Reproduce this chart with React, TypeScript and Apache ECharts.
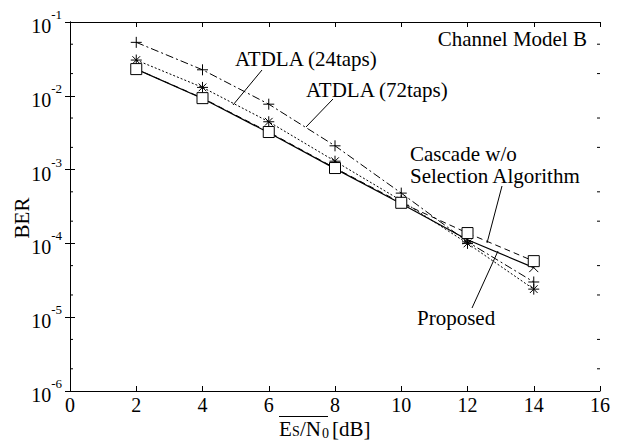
import React, { useEffect, useRef } from "react";
import * as echarts from "echarts";

const snrDb = [2, 4, 6, 8, 10, 12, 14];
const berAtdla72 = [5.3e-2, 2.25e-2, 7.7e-3, 2.1e-3, 4.8e-4, 1.05e-4, 3.0e-5];
const berAtdla24 = [3.05e-2, 1.3e-2, 4.45e-3, 1.3e-3, 3.8e-4, 1.0e-4, 2.4e-5];
const berCascade = [2.3e-2, 9.3e-3, 3.23e-3, 1.05e-3, 3.55e-4, 1.38e-4, 5.75e-5];
const berProposed = [2.3e-2, 9.2e-3, 3.15e-3, 1.03e-3, 3.45e-4, 1.12e-4, 4.7e-5];

const xTicks = [0, 2, 4, 6, 8, 10, 12, 14, 16];
const yTickExponents = [-6, -5, -4, -3, -2, -1];
const minorTickValues = [
  2e-6, 5e-6, 2e-5, 5e-5, 2e-4, 5e-4, 2e-3, 5e-3, 2e-2, 5e-2,
];

const FONT = "Liberation Serif";

const SYM_PLUS = "path://M5,0L5,10M0,5L10,5";
const SYM_STAR =
  "path://M5,0L5,10M0,5L10,5M1.5,1.5L8.5,8.5M8.5,1.5L1.5,8.5";
const SYM_X = "path://M0,0L10,10M10,0L0,10";

function pairs(vals: number[]) {
  return snrDb.map((x, i) => [x, vals[i]]);
}

function txt(text: string, x: number, y: number, size: number, align = "left", extra: any = {}) {
  return {
    type: "text",
    x,
    y,
    silent: true,
    z: 100,
    ...extra,
    style: {
      text,
      fontFamily: FONT,
      fontSize: size,
      fill: "#000",
      align,
      verticalAlign: "middle",
      textAlign: align,
      textVerticalAlign: "middle",
    },
  };
}

function seg(x1: number, y1: number, x2: number, y2: number) {
  return {
    type: "line",
    silent: true,
    z: 100,
    shape: { x1, y1, x2, y2 },
    style: { stroke: "#000", lineWidth: 1 },
  };
}

export default function App() {
  const ref = useRef<HTMLDivElement>(null);

  useEffect(() => {
    if (!ref.current) return;
    const chart = echarts.init(ref.current, undefined, { renderer: "svg" });

    const yLabelFmt = (v: number) => {
      const e = Math.round(Math.log10(v));
      const exp = yTickExponents.find((t) => t === e);
      return exp === undefined ? "" : `{b|10}{s|${exp}}`;
    };

    const axisCommon = {
      axisLine: { show: true, lineStyle: { color: "#000", width: 1 } },
      splitLine: { show: false },
      axisTick: { show: true, inside: true, length: 5, lineStyle: { color: "#000", width: 1 } },
    };

    const option: any = {
      animation: false,
      backgroundColor: "#fff",
      textStyle: { fontFamily: FONT },
      grid: { left: 70, right: 32, top: 22, bottom: 53, containLabel: false },
      xAxis: [
        {
          type: "value",
          min: xTicks[0],
          max: xTicks[xTicks.length - 1],
          interval: 2,
          ...axisCommon,
          axisLabel: {
            margin: 4,
            color: "#000",
            fontFamily: FONT,
            fontSize: 20,
            formatter: (v: number) => (xTicks.includes(v) ? String(v) : ""),
          },
        },
        {
          type: "value",
          position: "top",
          min: xTicks[0],
          max: xTicks[xTicks.length - 1],
          interval: 2,
          ...axisCommon,
          axisLabel: { show: false },
        },
      ],
      yAxis: [
        {
          type: "log",
          logBase: 10,
          min: 1e-6,
          max: 1e-1,
          ...axisCommon,
          axisLabel: {
            margin: 8,
            color: "#000",
            formatter: yLabelFmt,
            rich: {
              b: {
                fontFamily: FONT,
                fontSize: 20,
                color: "#000",
                lineHeight: 28,
                verticalAlign: "bottom",
              },
              s: {
                fontFamily: FONT,
                fontSize: 13,
                color: "#000",
                lineHeight: 28,
                verticalAlign: "top",
              },
            },
          },
        },
        {
          type: "log",
          logBase: 10,
          min: 1e-6,
          max: 1e-1,
          position: "right",
          ...axisCommon,
          axisLabel: { show: false },
        },
      ],
      series: [
        {
          name: "ATDLA (72taps)",
          type: "line",
          data: pairs(berAtdla72),
          symbol: SYM_PLUS,
          symbolSize: 11,
          lineStyle: { color: "#000", width: 1, type: [8, 3, 2, 3] },
          itemStyle: { color: "#000", borderColor: "#000", borderWidth: 1 },
          z: 3,
        },
        {
          name: "ATDLA (24taps)",
          type: "line",
          data: pairs(berAtdla24),
          symbol: SYM_STAR,
          symbolSize: 11,
          lineStyle: { color: "#000", width: 1, type: [2, 2] },
          itemStyle: { color: "#000", borderColor: "#000", borderWidth: 1 },
          z: 3,
        },
        {
          name: "Proposed",
          type: "line",
          data: pairs(berProposed),
          symbol: SYM_X,
          symbolSize: 9,
          lineStyle: { color: "#000", width: 1.2, type: "solid" },
          itemStyle: { color: "#000", borderColor: "#000", borderWidth: 1 },
          z: 3,
        },
        {
          name: "Cascade w/o Selection Algorithm",
          type: "line",
          data: pairs(berCascade),
          symbol: "rect",
          symbolSize: 11,
          lineStyle: { color: "#000", width: 1, type: [6, 4] },
          itemStyle: { color: "#fff", borderColor: "#000", borderWidth: 1 },
          z: 4,
        },
        {
          name: "minor ticks",
          type: "custom",
          silent: true,
          clip: false,
          z: 10,
          data: minorTickValues.map((v) => [xTicks[0], v]),
          encode: { x: 0, y: 1 },
          renderItem: (params: any, api: any) => {
            const v = api.value(1);
            const l = api.coord([xTicks[0], v]);
            const r = api.coord([xTicks[xTicks.length - 1], v]);
            return {
              type: "group",
              children: [
                {
                  type: "line",
                  shape: { x1: l[0], y1: l[1], x2: l[0] + 3, y2: l[1] },
                  style: { stroke: "#000", lineWidth: 1 },
                },
                {
                  type: "line",
                  shape: { x1: r[0] - 3, y1: r[1], x2: r[0], y2: r[1] },
                  style: { stroke: "#000", lineWidth: 1 },
                },
              ],
            };
          },
        },
      ],
      graphic: [
        txt("Channel Model B", 587, 38.5, 21, "right"),
        txt("ATDLA (24taps)", 235, 59, 21),
        seg(262, 70, 233, 105),
        txt("ATDLA (72taps)", 306, 89.5, 21),
        seg(333, 99, 306, 127),
        txt("Cascade w/o", 410, 153.5, 21),
        txt("Selection Algorithm", 410, 175.5, 21),
        seg(502, 186, 487, 243),
        txt("Proposed", 417, 317.5, 21),
        seg(472, 308, 498, 251),
        txt("BER", 22, 218, 21, "center", { rotation: Math.PI / 2 }),
        txt("E", 279, 428.5, 21),
        txt("S", 292, 431, 14),
        txt("/N", 300, 428.5, 21),
        txt("0", 322, 433, 14),
        txt("[dB]", 332, 428.5, 21),
        seg(279, 416.5, 328, 416.5),
      ],
    };

    chart.setOption(option);
    return () => chart.dispose();
  }, []);

  return (
    <div
      ref={ref}
      style={{ position: "fixed", left: 0, top: 0, width: 632, height: 444, background: "#fff" }}
    />
  );
}
